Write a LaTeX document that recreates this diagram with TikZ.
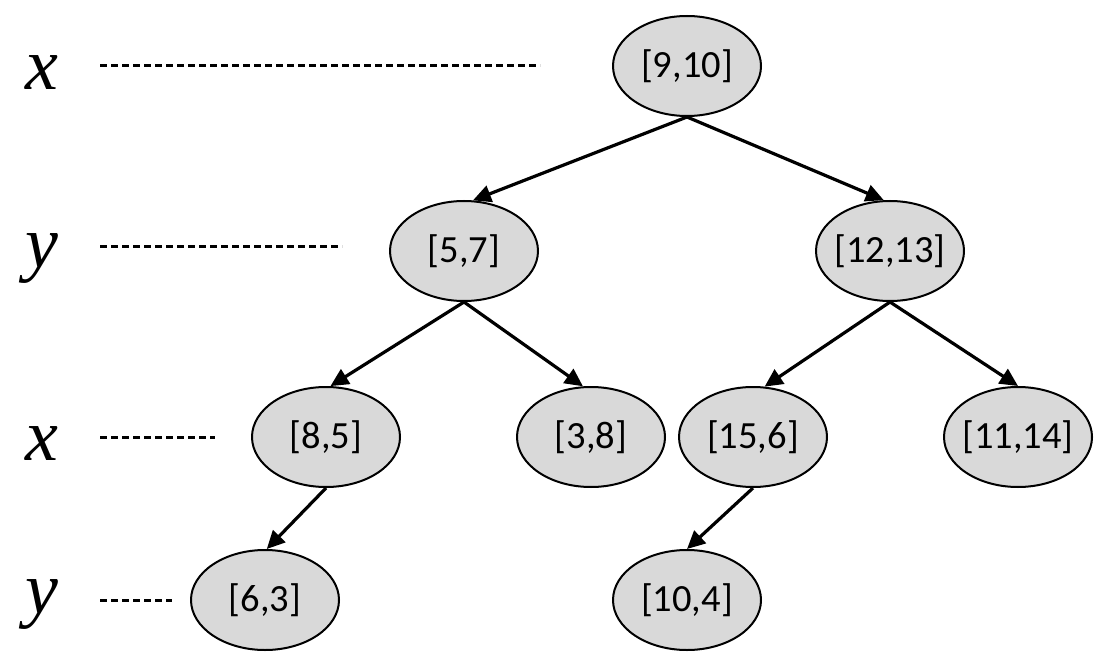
\documentclass[tikz,border=0pt]{standalone}
\usepackage{fontspec}
\setmainfont{Carlito}
\newfontfamily\labelfont[UprightFont={Liberation Serif Italic}]{Liberation Serif}
\usetikzlibrary{shapes.geometric,arrows.meta}
\definecolor{nodegray}{RGB}{217,217,217}
\newcommand{\nodetext}[1]{\makebox[0pt][c]{#1}}
\begin{document}
\begin{tikzpicture}[x=1pt,y=-1pt,
  treenode/.style={ellipse,draw=black,line width=2pt,fill=nodegray,
    minimum width=148pt,minimum height=100pt,inner sep=0pt,
    font=\fontsize{38.5}{42}\selectfont},
  edge/.style={line width=3.2pt,-{Triangle[length=18pt,width=17pt]}},
  levelline/.style={line width=3pt,dash pattern=on 7pt off 4pt},
  axislabel/.style={anchor=base,inner sep=0pt,font=\labelfont\fontsize{74}{80}\selectfont}]
\useasboundingbox (0,0) rectangle (1118,668);
% nodes
\node[treenode] (A) at (687,66) {\nodetext{[9,10]}};
\node[treenode] (B) at (464,251) {\nodetext{[5,7]}};
\node[treenode] (C) at (890,251) {\nodetext{[12,13]}};
\node[treenode] (D) at (326,437) {\nodetext{[8,5]}};
\node[treenode] (E) at (591,437) {\nodetext{[3,8]}};
\node[treenode] (F) at (753,437) {\nodetext{[15,6]}};
\node[treenode] (G) at (1018,437) {\nodetext{[11,14]}};
\node[treenode] (H) at (265,600) {\nodetext{[6,3]}};
\node[treenode] (I) at (687,600) {\nodetext{[10,4]}};
% axis labels
\node[axislabel] (L1) at (42,90) {x};
\node[axislabel] (L2) at (42,267) {y};
\node[axislabel] (L3) at (42,460) {x};
\node[axislabel] (L4) at (42,613) {y};
% level lines
\coordinate (s1) at (100,66);  \coordinate (e1) at (540,66);
\coordinate (s2) at (100,247); \coordinate (e2) at (342,247);
\coordinate (s3) at (100,437); \coordinate (e3) at (215,437);
\coordinate (s4) at (100,600); \coordinate (e4) at (172,600);
\draw[levelline] (s1) -- (e1);
\draw[levelline] (s2) -- (e2);
\draw[levelline] (s3) -- (e3);
\draw[levelline] (s4) -- (e4);
% edges
\draw[edge] (A.south) -- (B.80);
\draw[edge] (A.south) -- (C.97);
\draw[edge] (B.south) -- (D.85);
\draw[edge] (B.south) -- (E.99);
\draw[edge] (C.south) -- (F.77);
\draw[edge] (C.south) -- (G.north);
\draw[edge] (D.south) -- (H.88);
\draw[edge] (F.south) -- (I.north);
\end{tikzpicture}
\end{document}
